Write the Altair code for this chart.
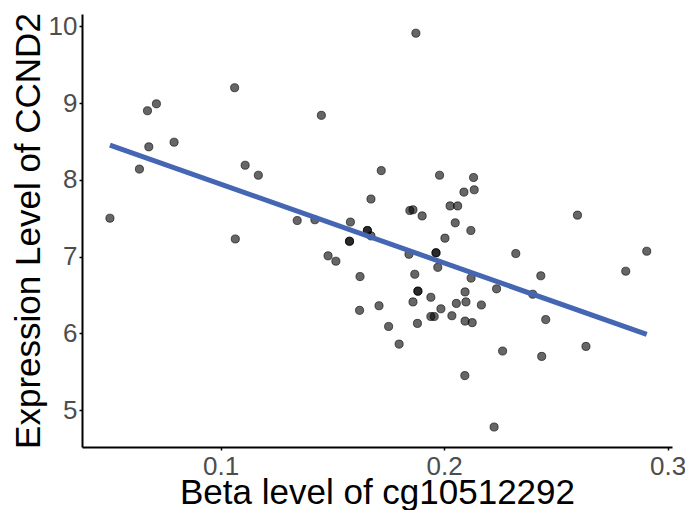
import altair as alt
import pandas as pd

beta = [0.0505, 0.0637, 0.0673, 0.0679, 0.0713, 0.0792, 0.1063, 0.1066, 0.1110, 0.1169,
        0.1343, 0.1422, 0.1451, 0.1481, 0.1516, 0.1577, 0.1581, 0.1622, 0.1624, 0.1657,
        0.1673, 0.1673, 0.1709, 0.1719, 0.1752, 0.1799, 0.1843, 0.1847, 0.1861, 0.1861,
        0.1869, 0.1874, 0.1881, 0.1883, 0.1902, 0.1941, 0.1941, 0.1956, 0.1964, 0.1972,
        0.1980, 0.1986, 0.2004, 0.2027, 0.2035, 0.2050, 0.2061, 0.2055, 0.2089, 0.2093,
        0.2094, 0.2094, 0.2098, 0.2120, 0.2121, 0.2126, 0.2132, 0.2135, 0.2167, 0.2224,
        0.2235, 0.2262, 0.2321, 0.2397, 0.2433, 0.2437, 0.2455, 0.2597, 0.2635, 0.2813,
        0.2907,
        0.1577, 0.1657, 0.1883, 0.1964]

expression = [7.50, 8.14, 8.90, 8.43, 8.99, 8.49, 9.20, 7.23, 8.19, 8.06,
              7.47, 7.48, 8.84, 7.01, 6.94, 7.20, 7.45, 6.30, 6.74, 7.34,
              7.27, 7.75, 6.36, 8.12, 6.09, 5.86, 7.03, 7.60, 7.61, 6.41,
              6.77, 9.91, 6.13, 6.55, 7.53, 6.47, 6.22, 6.22, 7.05, 6.86,
              8.06, 6.32, 7.24, 7.66, 6.23, 7.44, 7.66, 6.39, 7.84, 5.45,
              6.54, 6.16, 6.41, 7.34, 6.72, 6.14, 8.03, 7.87, 6.37, 4.78,
              6.58, 5.77, 7.04, 6.51, 6.75, 5.70, 6.18, 7.54, 5.83, 6.81,
              7.07,
              7.20, 7.34, 6.55, 7.05]

x_ticks = [0.1, 0.2, 0.3]
y_ticks = [5, 6, 7, 8, 9, 10]

df = pd.DataFrame({"beta": beta, "expr": expression})

FONT = "Liberation Sans"

x_enc = alt.X(
    "beta:Q",
    scale=alt.Scale(domain=[0.038, 0.302], nice=False, zero=False),
    axis=alt.Axis(
        title="Beta level of cg10512292",
        values=x_ticks,
        format=".1f",
        grid=False,
        domain=True,
        domainColor="black",
        domainWidth=2,
        tickColor="black",
        tickSize=3,
        tickWidth=1.5,
        labelFont=FONT,
        labelFontSize=26,
        labelColor="#4D4D4D",
        labelBaseline="alphabetic",
        labelPadding=24,
        labelFlush=False,
        titleFont=FONT,
        titleFontSize=35,
        titleFontWeight="normal",
        titleColor="black",
        titleBaseline="alphabetic",
        titleY=56,
    ),
)

y_enc = alt.Y(
    "expr:Q",
    scale=alt.Scale(domain=[4.52, 10.16], nice=False, zero=False),
    axis=alt.Axis(
        title="Expression Level of CCND2",
        values=y_ticks,
        format="d",
        grid=False,
        domain=True,
        domainColor="black",
        domainWidth=2,
        tickColor="black",
        tickSize=3,
        tickWidth=1.5,
        labelFont=FONT,
        labelFontSize=26,
        labelColor="#4D4D4D",
        labelPadding=2,
        labelFlush=False,
        titleFont=FONT,
        titleFontSize=35,
        titleFontWeight="normal",
        titleColor="black",
        titleBaseline="alphabetic",
        titleX=-43,
    ),
)

points = alt.Chart(df).mark_circle(
    size=66,
    fill="black",
    fillOpacity=0.6,
    stroke="black",
    strokeOpacity=0.6,
    strokeWidth=1,
).encode(x=x_enc, y=y_enc)

fit = alt.Chart(df).transform_regression("beta", "expr").mark_line(
    color="#4466B3", strokeWidth=5
).encode(x="beta:Q", y="expr:Q")

chart = alt.layer(points, fit).properties(
    width=590,
    height=433,
    background="white",
    autosize=alt.AutoSizeParams(type="none"),
    padding={"left": 74, "top": 6, "right": 13, "bottom": 70},
).configure_view(stroke=None)

chart.save("out.html", embed_options={"renderer": "svg", "actions": False})
